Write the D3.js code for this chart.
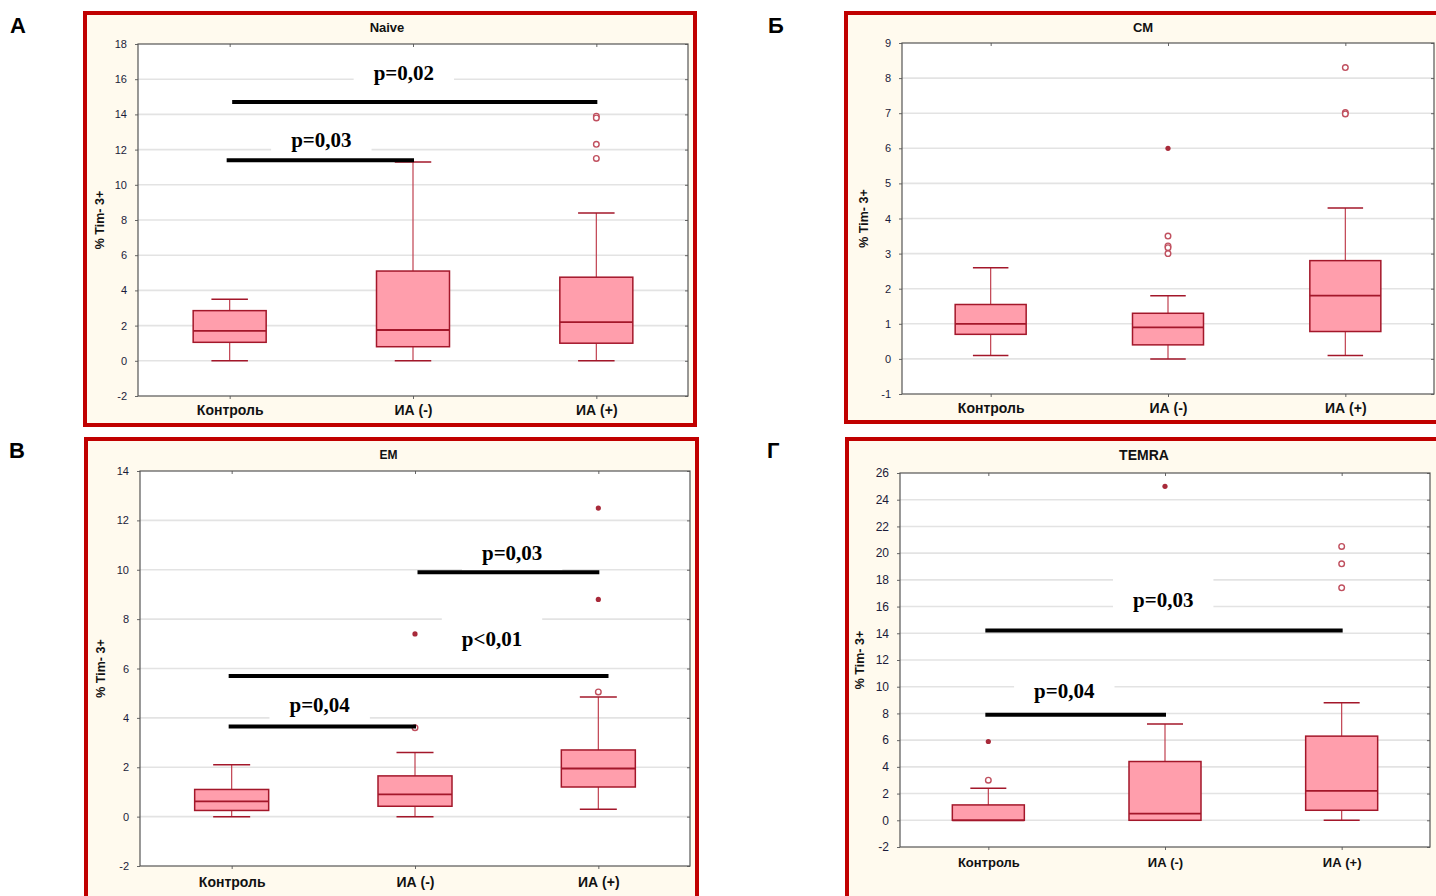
<!DOCTYPE html>
<html><head><meta charset="utf-8">
<script src="https://cdn.jsdelivr.net/npm/d3@7"></script>
<style>body{margin:0;background:#fff;} svg{display:block;}</style>
</head><body>
<svg id="chart" width="1436" height="896"></svg>
<script>
// ---------- DATA ----------
const categories = ["Контроль", "ИА (-)", "ИА (+)"];
const yLabel = "% Tim- 3+";

// box stats: [min, q1, median, q3, max]
const naiveBoxes = [[0, 1.05, 1.7, 2.85, 3.5], [0, 0.8, 1.75, 5.1, 11.3], [0, 1.0, 2.2, 4.75, 8.4]];
const naiveOutliers = [{c: 2, v: 13.9, t: "o"}, {c: 2, v: 13.8, t: "o"}, {c: 2, v: 12.3, t: "o"}, {c: 2, v: 11.5, t: "o"}];
const naiveTicks = [-2, 0, 2, 4, 6, 8, 10, 12, 14, 16, 18];
const naiveSig = [
  {from: 0, to: 1, level: 11.4, label: "p=0,03", labelLevel: 12.55, labelAt: 0.5},
  {from: 0.03, to: 2, level: 14.7, label: "p=0,02", labelLevel: 16.4, labelAt: 0.95}
];

const cmBoxes = [[0.1, 0.7, 1.0, 1.55, 2.6], [0, 0.4, 0.9, 1.3, 1.8], [0.1, 0.78, 1.8, 2.8, 4.3]];
const cmOutliers = [{c: 1, v: 6.0, t: "*"}, {c: 1, v: 3.5, t: "o"}, {c: 1, v: 3.22, t: "o"}, {c: 1, v: 3.17, t: "o"}, {c: 1, v: 3.0, t: "o"},
  {c: 2, v: 8.3, t: "o"}, {c: 2, v: 7.02, t: "o"}, {c: 2, v: 6.98, t: "o"}];
const cmTicks = [-1, 0, 1, 2, 3, 4, 5, 6, 7, 8, 9];
const cmSig = [];

const emBoxes = [[0, 0.25, 0.62, 1.1, 2.1], [0, 0.42, 0.9, 1.65, 2.6], [0.3, 1.2, 1.95, 2.7, 4.85]];
const emOutliers = [{c: 1, v: 7.4, t: "*"}, {c: 1, v: 3.6, t: "o"}, {c: 2, v: 12.5, t: "*"}, {c: 2, v: 8.8, t: "*"}, {c: 2, v: 5.05, t: "o"}];
const emTicks = [-2, 0, 2, 4, 6, 8, 10, 12, 14];
const emSig = [
  {from: 0, to: 1, level: 3.65, label: "p=0,04", labelLevel: 4.55, labelAt: 0.48},
  {from: 0, to: 2.05, level: 5.7, label: "p<0,01", labelLevel: 7.2, labelAt: 1.42},
  {from: 1.03, to: 2, level: 9.9, label: "p=0,03", labelLevel: 10.7, labelAt: 1.53}
];

const temraBoxes = [[0, 0, 0, 1.15, 2.4], [0, 0, 0.5, 4.4, 7.2], [0, 0.75, 2.2, 6.3, 8.8]];
const temraOutliers = [{c: 0, v: 5.9, t: "*"}, {c: 0, v: 3.0, t: "o"}, {c: 1, v: 25.0, t: "*"},
  {c: 2, v: 20.5, t: "o"}, {c: 2, v: 19.2, t: "o"}, {c: 2, v: 17.4, t: "o"}];
const temraTicks = [-2, 0, 2, 4, 6, 8, 10, 12, 14, 16, 18, 20, 22, 24, 26];
const temraSig = [
  {from: 0, to: 1, level: 7.9, label: "p=0,04", labelLevel: 9.7, labelAt: 0.43},
  {from: 0, to: 2, level: 14.2, label: "p=0,03", labelLevel: 16.5, labelAt: 0.99}
];

const panelLetters = ["А", "Б", "В", "Г"];
const panelTitles = ["Naive", "CM", "EM", "TEMRA"];

// ---------- DRAW ----------
const svg = d3.select("#chart");
const RED = "#c00000";
const BOX_FILL = "#ff9eac";
const BOX_STROKE = "#a3172a";
const WHISK = "#c0404f";

function drawPanel(o) {
  const g = svg.append("g");
  // frame
  g.append("rect").attr("x", o.frame[0]).attr("y", o.frame[1]).attr("width", o.frame[2]).attr("height", o.frame[3])
    .attr("fill", "#fffaee").attr("stroke", RED).attr("stroke-width", 4);
  // letter
  svg.append("text").attr("x", o.letterPos[0]).attr("y", o.letterPos[1]).text(o.letter)
    .attr("font-family", "Liberation Sans, Arial, sans-serif").attr("font-weight", "bold").attr("font-size", 22).attr("fill", "#000");

  const [L, T, R, B] = o.plot;
  const y = d3.scaleLinear().domain([o.ticks[0], o.ticks[o.ticks.length - 1]]).range([B, T]);
  const x = d3.scalePoint().domain(categories).range([L, R]).padding(0.5);
  const xf = f => { const i = Math.floor(Math.min(f, 1.999)); const a = x(categories[i]), b = x(categories[i + 1]); return a + (b - a) * (f - i); };

  g.append("rect").attr("x", L).attr("y", T).attr("width", R - L).attr("height", B - T).attr("fill", "#fff");
  // gridlines
  g.append("g").selectAll("line").data(o.ticks.slice(1, -1)).join("line")
    .attr("x1", L).attr("x2", R).attr("y1", d => y(d)).attr("y2", d => y(d))
    .attr("stroke", "#e3e3e3").attr("stroke-width", 1.6);

  // y axis
  const ya = g.append("g").attr("transform", `translate(${L},0)`)
    .call(d3.axisLeft(y).tickValues(o.ticks).tickSize(3).tickPadding(o.tickPad).tickFormat(d => String(d)));
  ya.select(".domain").remove();
  ya.selectAll("line").attr("stroke", "#666");
  ya.selectAll("text").attr("font-family", o.tickFont).attr("font-size", o.tickSize).attr("fill", "#1b1b3a");
  // right ticks
  g.append("g").attr("transform", `translate(${R},0)`).call(d3.axisRight(y).tickValues(o.ticks).tickSize(3).tickFormat(""))
    .call(s => { s.select(".domain").remove(); s.selectAll("line").attr("stroke", "#666").attr("transform", "translate(-3,0)"); });
  // x axis
  const xa = g.append("g").attr("transform", `translate(0,${B})`).call(d3.axisBottom(x).tickSize(3).tickPadding(o.catPad));
  xa.select(".domain").remove();
  xa.selectAll("line").attr("stroke", "#666");
  xa.selectAll("text").attr("font-family", o.catFont).attr("font-weight", "bold").attr("font-size", o.catSize).attr("fill", "#111");
  g.append("g").attr("transform", `translate(0,${T})`).call(d3.axisBottom(x).tickSize(3).tickFormat(""))
    .call(s => { s.select(".domain").remove(); s.selectAll("line").attr("stroke", "#666"); });
  // plot frame
  g.append("rect").attr("x", L).attr("y", T).attr("width", R - L).attr("height", B - T)
    .attr("fill", "none").attr("stroke", "#555").attr("stroke-width", 1.2);

  // title (centred on the panel frame)
  g.append("text").attr("x", o.frame[0] + o.frame[2] / 2 - 3).attr("y", o.titleY).attr("text-anchor", "middle").text(o.title)
    .attr("font-family", "Liberation Sans, Arial, sans-serif").attr("font-weight", "bold").attr("font-size", o.titleSize).attr("fill", "#111");
  // y label
  g.append("text").attr("transform", `translate(${o.yLabelX},${(T + B) / 2}) rotate(-90)`).attr("text-anchor", "middle")
    .attr("dy", "0.35em").text(yLabel)
    .attr("font-family", "Liberation Sans, Arial, sans-serif").attr("font-weight", "bold").attr("font-size", 12.5).attr("fill", "#111");

  // boxes
  const bw = o.boxW, cw = bw * 0.5;
  const bg = g.append("g").selectAll("g").data(o.boxes).join("g");
  bg.each(function (d, i) {
    const s = d3.select(this), cx = x(categories[i]);
    s.append("line").attr("x1", cx).attr("x2", cx).attr("y1", y(d[3])).attr("y2", y(d[4])).attr("stroke", WHISK).attr("stroke-width", 1.2);
    s.append("line").attr("x1", cx).attr("x2", cx).attr("y1", y(d[0])).attr("y2", y(d[1])).attr("stroke", WHISK).attr("stroke-width", 1.2);
    s.append("line").attr("x1", cx - cw / 2).attr("x2", cx + cw / 2).attr("y1", y(d[4])).attr("y2", y(d[4])).attr("stroke", BOX_STROKE).attr("stroke-width", 1.5);
    s.append("line").attr("x1", cx - cw / 2).attr("x2", cx + cw / 2).attr("y1", y(d[0])).attr("y2", y(d[0])).attr("stroke", BOX_STROKE).attr("stroke-width", 1.5);
    s.append("rect").attr("x", cx - bw / 2).attr("y", y(d[3])).attr("width", bw).attr("height", Math.max(0.5, y(d[1]) - y(d[3])))
      .attr("fill", BOX_FILL).attr("stroke", BOX_STROKE).attr("stroke-width", 1.5);
    s.append("line").attr("x1", cx - bw / 2).attr("x2", cx + bw / 2).attr("y1", y(d[2])).attr("y2", y(d[2])).attr("stroke", BOX_STROKE).attr("stroke-width", 1.8);
  });
  // outliers
  const og = g.append("g");
  o.outliers.forEach(d => {
    const cx = x(categories[d.c]), cy = y(d.v);
    if (d.t === "o") og.append("circle").attr("cx", cx).attr("cy", cy).attr("r", 2.8).attr("fill", "#fff").attr("stroke", "#c0505f").attr("stroke-width", 1.4);
    else og.append("circle").attr("cx", cx).attr("cy", cy).attr("r", 2.6).attr("fill", "#a82a3a");
  });

  // significance
  o.sig.forEach(s => {
    const tx = xf(s.labelAt), ty = y(s.labelLevel);
    const txt = g.append("text").attr("x", tx).attr("y", ty).attr("text-anchor", "middle").attr("dy", "0.35em").text(s.label)
      .attr("font-family", "Liberation Serif, Times New Roman, serif").attr("font-weight", "bold").attr("font-size", 21).attr("fill", "#000");
    const w = txt.node().getComputedTextLength() + 40;
    g.insert("rect", function () { return txt.node(); }).attr("x", tx - w / 2).attr("y", ty - 21).attr("width", w).attr("height", 42).attr("fill", "#fff");
    g.append("line").attr("x1", xf(s.from) - 3).attr("x2", xf(s.to) + 1).attr("y1", y(s.level)).attr("y2", y(s.level))
      .attr("stroke", "#000").attr("stroke-width", 4);
  });
}

const sans = "Liberation Sans, Arial, sans-serif";
const narrow = "Liberation Sans Narrow, Arial Narrow, Liberation Sans, sans-serif";
drawPanel({letter: panelLetters[0], letterPos: [10, 33], title: panelTitles[0], titleY: 32, titleSize: 13,
  frame: [85, 13, 610, 412], plot: [138, 44, 688, 396], ticks: naiveTicks, boxes: naiveBoxes, outliers: naiveOutliers, sig: naiveSig,
  yLabelX: 100, boxW: 73, tickFont: sans, tickSize: 11, tickPad: 8, catFont: sans, catSize: 14, catPad: 6});
drawPanel({letter: panelLetters[1], letterPos: [768, 33], title: panelTitles[1], titleY: 32, titleSize: 13,
  frame: [846, 13, 600, 409], plot: [902, 43, 1434, 394], ticks: cmTicks, boxes: cmBoxes, outliers: cmOutliers, sig: cmSig,
  yLabelX: 864, boxW: 71, tickFont: sans, tickSize: 11, tickPad: 8, catFont: sans, catSize: 14, catPad: 6});
drawPanel({letter: panelLetters[2], letterPos: [9, 458], title: panelTitles[2], titleY: 459, titleSize: 12,
  frame: [86, 439, 611, 470], plot: [140, 471, 690, 866], ticks: emTicks, boxes: emBoxes, outliers: emOutliers, sig: emSig,
  yLabelX: 101, boxW: 74, tickFont: sans, tickSize: 11, tickPad: 8, catFont: sans, catSize: 14, catPad: 8});
drawPanel({letter: panelLetters[3], letterPos: [767, 458], title: panelTitles[3], titleY: 460, titleSize: 14,
  frame: [847, 439, 600, 470], plot: [900, 473, 1430, 847], ticks: temraTicks, boxes: temraBoxes, outliers: temraOutliers, sig: temraSig,
  yLabelX: 860, boxW: 72, tickFont: narrow, tickSize: 12, tickPad: 8, catFont: narrow, catSize: 13, catPad: 8});
</script>
</body></html>
